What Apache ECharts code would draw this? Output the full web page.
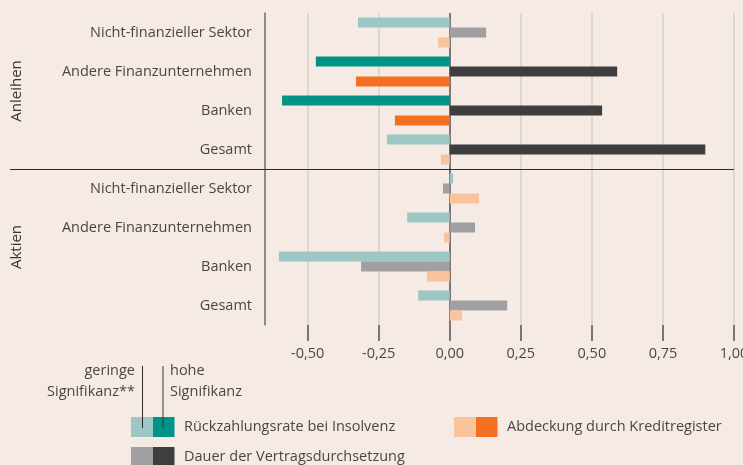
<!DOCTYPE html>
<html><head><meta charset="utf-8">
<script src="https://cdn.jsdelivr.net/npm/echarts@6/dist/echarts.min.js"></script>
<style>html,body{margin:0;padding:0;background:#f6eae5}#c{width:743px;height:465px}</style>
</head><body><div id="c"></div>
<script>
const categories = ['Nicht-finanzieller Sektor','Andere Finanzunternehmen','Banken','Gesamt','Nicht-finanzieller Sektor','Andere Finanzunternehmen','Banken','Gesamt'];
const groups = ['Anleihen','Aktien'];
const seriesNames = ['Rückzahlungsrate bei Insolvenz','Dauer der Vertragsdurchsetzung','Abdeckung durch Kreditregister'];
const recovery    = [-0.323,-0.471,-0.590,-0.221, 0.012,-0.150,-0.601,-0.111];
const recoverySig = [0,1,1,0, 0,0,0,0];
const duration    = [0.128,0.589,0.536,0.899,-0.024,0.089,-0.312,0.202];
const durationSig = [0,1,1,1, 0,0,0,0];
const coverage    = [-0.041,-0.330,-0.193,-0.031, 0.103,-0.020,-0.080,0.043];
const coverageSig = [0,1,1,0, 0,0,0,0];
const tickValues = [-0.5,-0.25,0,0.25,0.5,0.75,1.0];
const sigLow = ['geringe','Signifikanz**'];
const sigHigh = ['hohe','Signifikanz'];

const lowColors  = ['#9cc7c4','#a0a0a3','#f9c49b'];
const highColors = ['#009388','#3e3e3e','#f37022'];
const FONT = 'Open Sans';
const TXT = '#4d4545';

const values = [recovery, duration, coverage];
const sigs = [recoverySig, durationSig, coverageSig];

const chart = echarts.init(document.getElementById('c'));

const series = seriesNames.map((name, s) => ({
  name, type: 'bar', yAxisIndex: 0, barWidth: 10, barGap: '0%',
  data: values[s].map((v, i) => ({ value: v, itemStyle: { color: sigs[s][i] ? highColors[s] : lowColors[s] } })),
  animation: false, silent: true
}));

// legend graphics
const legendPos = [[131,417],[131,447],[454,417]];
const graphics = [];
seriesNames.forEach((name, s) => {
  const [x, y] = legendPos[s];
  graphics.push({ type:'rect', shape:{x:x, y:y, width:22, height:20}, style:{fill:lowColors[s]} });
  graphics.push({ type:'rect', shape:{x:x+22, y:y, width:21.5, height:20}, style:{fill:highColors[s]} });
  graphics.push({ type:'text', x:x+53, y:y+10, style:{text:name, fill:TXT, fontSize:14.5, fontFamily:FONT, textVerticalAlign:'middle', textAlign:'left'} });
});
graphics.push({ type:'text', x:135, y:360, style:{text:sigLow.join('\n'), fill:TXT, fontSize:14.5, fontFamily:FONT, lineHeight:21, textAlign:'right', textVerticalAlign:'top'} });
graphics.push({ type:'text', x:170, y:360, style:{text:sigHigh.join('\n'), fill:TXT, fontSize:14.5, fontFamily:FONT, lineHeight:21, textAlign:'left', textVerticalAlign:'top'} });
graphics.push({ type:'line', shape:{x1:142.5, y1:366, x2:142.5, y2:428}, style:{stroke:'#2e2a2a', lineWidth:1}, z:10 });
graphics.push({ type:'line', shape:{x1:163, y1:366, x2:163, y2:428}, style:{stroke:'#3a3636', lineWidth:1}, z:10 });

const option = {
  backgroundColor: '#f6eae5',
  textStyle: { fontFamily: FONT },
  grid: { left: 265, right: 9, top: 13, bottom: 140, containLabel: false, outerBoundsMode: 'none' },
  xAxis: {
    type: 'value', min: -0.65, max: 1.0,
    axisLine: { show: false },
    axisTick: { show: true, customValues: tickValues, length: 16, lineStyle: { color: '#7d7573', width: 2 } },
    axisLabel: { customValues: tickValues, fontSize: 14.5, color: TXT, margin: 21, fontFamily: FONT,
      formatter: v => v.toFixed(2).replace('.', ',') },
    splitLine: { show: true, lineStyle: { color: tickValues.map(v => v === 0 ? '#7d7573' : '#ddd6d3'), width: 2 } }
  },
  yAxis: [
    { type: 'category', inverse: true, data: categories,
      axisLine: { onZero: false, lineStyle: { color: '#6e6866', width: 1.5 } },
      axisTick: { length: 15, lineStyle: { color: '#3e3838', width: 1.5 } },
      axisLabel: { margin: 13, fontSize: 14.5, color: TXT, fontFamily: FONT },
      splitLine: { show: false } },
    { type: 'category', inverse: true, data: groups, position: 'left', offset: 230,
      axisLine: { show: false, onZero: false }, axisTick: { show: false },
      axisLabel: { rotate: 90, margin: 11, fontSize: 15, color: '#3a3333', fontFamily: FONT } }
  ],
  series,
  graphic: graphics
};
chart.setOption(option);

// separator between groups
const yA = chart.convertToPixel({ yAxisIndex: 0 }, 3);
const yB = chart.convertToPixel({ yAxisIndex: 0 }, 4);
const ySep = Math.round((yA + yB) / 2) + 0.5;
const xEnd = chart.convertToPixel({ xAxisIndex: 0 }, 1.0);
graphics.push({ type:'line', shape:{x1:10, y1:ySep, x2:xEnd, y2:ySep}, style:{stroke:'#2e2a2a', lineWidth:1}, z:20 });
chart.setOption({ graphic: graphics });
</script></body></html>
